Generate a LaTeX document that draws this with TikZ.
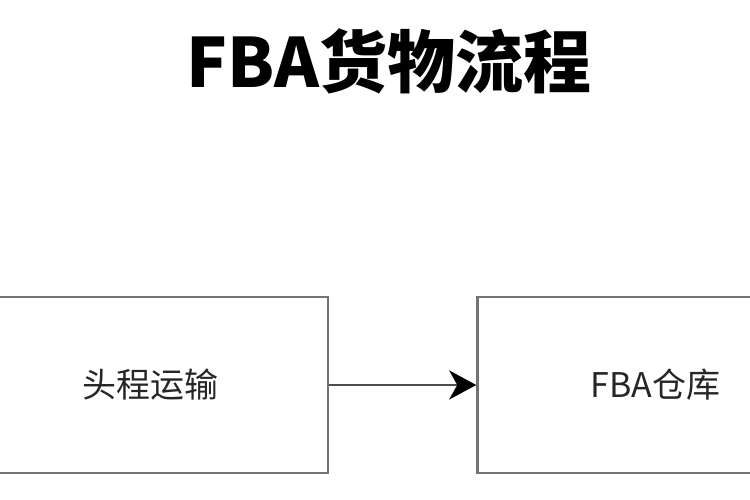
\documentclass[tikz,border=0pt]{standalone}
\usepackage{fontspec}
\setmainfont{Noto Sans CJK SC}
\usetikzlibrary{arrows.meta,positioning}

\tikzset{
    stagebox/.style={draw=black!55, line width=2.5pt, minimum width=356pt,
        minimum height=176pt, inner sep=0pt, text=black!85,
        font=\fontsize{34}{40}\selectfont},
    flowarrow/.style={-{Stealth[length=27pt,width=29pt,inset=8pt,fill=black,color=black]},
        line width=2.5pt, draw=black!70}
}

\begin{document}
\begin{tikzpicture}[x=1pt, y=-1pt]
    \useasboundingbox (0,0) rectangle (750,500);

    % 标题
    \node (title) at (389,61) {\fontsize{68}{76}\selectfont\bfseries FBA货物流程};

    % 两个阶段
    \node[stagebox] (headleg) at (150,385) {头程运输};
    \node[stagebox, right=147pt of headleg] (warehouse) {FBA仓库};

    % 箭头
    \draw[flowarrow] (headleg) -- (warehouse);
\end{tikzpicture}
\end{document}
